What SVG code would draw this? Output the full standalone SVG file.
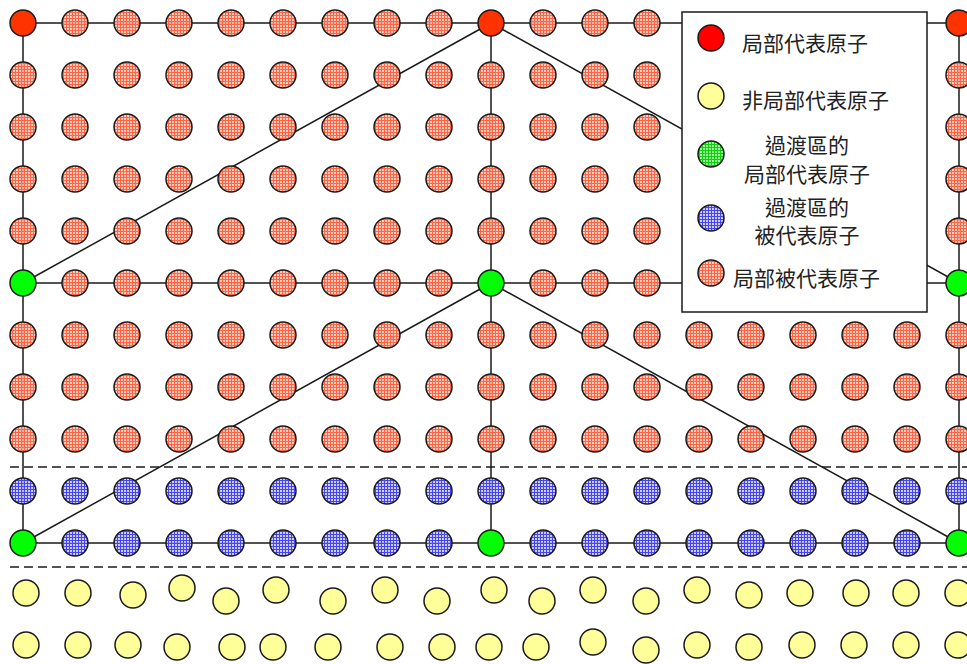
<svg xmlns="http://www.w3.org/2000/svg" xmlns:xlink="http://www.w3.org/1999/xlink" width="967" height="664" viewBox="0 0 967 664">
<defs>
<pattern id="pS" width="3" height="3" patternUnits="userSpaceOnUse">
<rect width="3" height="3" fill="#FFC2B0" fill-opacity="0.85"/>
<path d="M0 0.5H3M0.5 0V3" stroke="#FF6444" stroke-width="1"/>
</pattern>
<pattern id="pB" width="3" height="3" patternUnits="userSpaceOnUse">
<rect width="3" height="3" fill="#C4C4FF" fill-opacity="0.85"/>
<path d="M0 0.5H3M0.5 0V3" stroke="#4646F0" stroke-width="1"/>
</pattern>
<pattern id="pG" width="3" height="3" patternUnits="userSpaceOnUse">
<rect width="3" height="3" fill="#9CFF9C"/>
<path d="M0 0.5H3M0.5 0V3" stroke="#10D010" stroke-width="1"/>
</pattern>
</defs>
<style>
.ln{stroke:#1a1a1a;stroke-width:1.5;fill:none}
.ds{stroke:#1a1a1a;stroke-width:1.5;stroke-dasharray:9 5;fill:none}
circle{stroke:#1a1a1a;stroke-width:1.5}
.s{fill:url(#pS)}
.b{fill:url(#pB)}
.r{fill:#FF3300}
.g{fill:#00FF00}
.y{fill:#FFFF99}
.lr{fill:#FF0000}
.lg{fill:url(#pG)}
.t{font-family:"Noto Sans CJK TC","Noto Sans CJK SC",sans-serif;font-size:21px;fill:#222;dominant-baseline:central}
.m{text-anchor:middle}
</style>
<rect width="967" height="664" fill="#fff"/>
<g id="connectors">
<path class="ln" d="M23 23H959M23 283H959M23 543H959M23 23V543M491 23V543M959 23V543"/>
<path class="ln" d="M491 23L23 283M491 23L959 283M491 283L23 543M491 283L959 543"/>
<path class="ds" d="M10 467H967M10 567H967"/>
</g>
<g id="row0">
<circle id="n0-0" class="r" cx="23" cy="23" r="13"/><circle id="n0-1" class="s" cx="75" cy="23" r="13"/><circle id="n0-2" class="s" cx="127" cy="23" r="13"/><circle id="n0-3" class="s" cx="179" cy="23" r="13"/><circle id="n0-4" class="s" cx="231" cy="23" r="13"/><circle id="n0-5" class="s" cx="283" cy="23" r="13"/><circle id="n0-6" class="s" cx="335" cy="23" r="13"/><circle id="n0-7" class="s" cx="387" cy="23" r="13"/><circle id="n0-8" class="s" cx="439" cy="23" r="13"/><circle id="n0-9" class="r" cx="491" cy="23" r="13"/><circle id="n0-10" class="s" cx="543" cy="23" r="13"/><circle id="n0-11" class="s" cx="595" cy="23" r="13"/><circle id="n0-12" class="s" cx="647" cy="23" r="13"/><circle id="n0-18" class="r" cx="959" cy="23" r="13"/>
</g>
<g id="row1">
<circle id="n1-0" class="s" cx="23" cy="75" r="13"/><circle id="n1-1" class="s" cx="75" cy="75" r="13"/><circle id="n1-2" class="s" cx="127" cy="75" r="13"/><circle id="n1-3" class="s" cx="179" cy="75" r="13"/><circle id="n1-4" class="s" cx="231" cy="75" r="13"/><circle id="n1-5" class="s" cx="283" cy="75" r="13"/><circle id="n1-6" class="s" cx="335" cy="75" r="13"/><circle id="n1-7" class="s" cx="387" cy="75" r="13"/><circle id="n1-8" class="s" cx="439" cy="75" r="13"/><circle id="n1-9" class="s" cx="491" cy="75" r="13"/><circle id="n1-10" class="s" cx="543" cy="75" r="13"/><circle id="n1-11" class="s" cx="595" cy="75" r="13"/><circle id="n1-12" class="s" cx="647" cy="75" r="13"/><circle id="n1-18" class="s" cx="959" cy="75" r="13"/>
</g>
<g id="row2">
<circle id="n2-0" class="s" cx="23" cy="127" r="13"/><circle id="n2-1" class="s" cx="75" cy="127" r="13"/><circle id="n2-2" class="s" cx="127" cy="127" r="13"/><circle id="n2-3" class="s" cx="179" cy="127" r="13"/><circle id="n2-4" class="s" cx="231" cy="127" r="13"/><circle id="n2-5" class="s" cx="283" cy="127" r="13"/><circle id="n2-6" class="s" cx="335" cy="127" r="13"/><circle id="n2-7" class="s" cx="387" cy="127" r="13"/><circle id="n2-8" class="s" cx="439" cy="127" r="13"/><circle id="n2-9" class="s" cx="491" cy="127" r="13"/><circle id="n2-10" class="s" cx="543" cy="127" r="13"/><circle id="n2-11" class="s" cx="595" cy="127" r="13"/><circle id="n2-12" class="s" cx="647" cy="127" r="13"/><circle id="n2-18" class="s" cx="959" cy="127" r="13"/>
</g>
<g id="row3">
<circle id="n3-0" class="s" cx="23" cy="179" r="13"/><circle id="n3-1" class="s" cx="75" cy="179" r="13"/><circle id="n3-2" class="s" cx="127" cy="179" r="13"/><circle id="n3-3" class="s" cx="179" cy="179" r="13"/><circle id="n3-4" class="s" cx="231" cy="179" r="13"/><circle id="n3-5" class="s" cx="283" cy="179" r="13"/><circle id="n3-6" class="s" cx="335" cy="179" r="13"/><circle id="n3-7" class="s" cx="387" cy="179" r="13"/><circle id="n3-8" class="s" cx="439" cy="179" r="13"/><circle id="n3-9" class="s" cx="491" cy="179" r="13"/><circle id="n3-10" class="s" cx="543" cy="179" r="13"/><circle id="n3-11" class="s" cx="595" cy="179" r="13"/><circle id="n3-12" class="s" cx="647" cy="179" r="13"/><circle id="n3-18" class="s" cx="959" cy="179" r="13"/>
</g>
<g id="row4">
<circle id="n4-0" class="s" cx="23" cy="231" r="13"/><circle id="n4-1" class="s" cx="75" cy="231" r="13"/><circle id="n4-2" class="s" cx="127" cy="231" r="13"/><circle id="n4-3" class="s" cx="179" cy="231" r="13"/><circle id="n4-4" class="s" cx="231" cy="231" r="13"/><circle id="n4-5" class="s" cx="283" cy="231" r="13"/><circle id="n4-6" class="s" cx="335" cy="231" r="13"/><circle id="n4-7" class="s" cx="387" cy="231" r="13"/><circle id="n4-8" class="s" cx="439" cy="231" r="13"/><circle id="n4-9" class="s" cx="491" cy="231" r="13"/><circle id="n4-10" class="s" cx="543" cy="231" r="13"/><circle id="n4-11" class="s" cx="595" cy="231" r="13"/><circle id="n4-12" class="s" cx="647" cy="231" r="13"/><circle id="n4-18" class="s" cx="959" cy="231" r="13"/>
</g>
<g id="row5">
<circle id="n5-0" class="g" cx="23" cy="283" r="13"/><circle id="n5-1" class="s" cx="75" cy="283" r="13"/><circle id="n5-2" class="s" cx="127" cy="283" r="13"/><circle id="n5-3" class="s" cx="179" cy="283" r="13"/><circle id="n5-4" class="s" cx="231" cy="283" r="13"/><circle id="n5-5" class="s" cx="283" cy="283" r="13"/><circle id="n5-6" class="s" cx="335" cy="283" r="13"/><circle id="n5-7" class="s" cx="387" cy="283" r="13"/><circle id="n5-8" class="s" cx="439" cy="283" r="13"/><circle id="n5-9" class="g" cx="491" cy="283" r="13"/><circle id="n5-10" class="s" cx="543" cy="283" r="13"/><circle id="n5-11" class="s" cx="595" cy="283" r="13"/><circle id="n5-12" class="s" cx="647" cy="283" r="13"/><circle id="n5-18" class="g" cx="959" cy="283" r="13"/>
</g>
<g id="row6">
<circle id="n6-0" class="s" cx="23" cy="335" r="13"/><circle id="n6-1" class="s" cx="75" cy="335" r="13"/><circle id="n6-2" class="s" cx="127" cy="335" r="13"/><circle id="n6-3" class="s" cx="179" cy="335" r="13"/><circle id="n6-4" class="s" cx="231" cy="335" r="13"/><circle id="n6-5" class="s" cx="283" cy="335" r="13"/><circle id="n6-6" class="s" cx="335" cy="335" r="13"/><circle id="n6-7" class="s" cx="387" cy="335" r="13"/><circle id="n6-8" class="s" cx="439" cy="335" r="13"/><circle id="n6-9" class="s" cx="491" cy="335" r="13"/><circle id="n6-10" class="s" cx="543" cy="335" r="13"/><circle id="n6-11" class="s" cx="595" cy="335" r="13"/><circle id="n6-12" class="s" cx="647" cy="335" r="13"/><circle id="n6-13" class="s" cx="699" cy="335" r="13"/><circle id="n6-14" class="s" cx="751" cy="335" r="13"/><circle id="n6-15" class="s" cx="803" cy="335" r="13"/><circle id="n6-16" class="s" cx="855" cy="335" r="13"/><circle id="n6-17" class="s" cx="907" cy="335" r="13"/><circle id="n6-18" class="s" cx="959" cy="335" r="13"/>
</g>
<g id="row7">
<circle id="n7-0" class="s" cx="23" cy="387" r="13"/><circle id="n7-1" class="s" cx="75" cy="387" r="13"/><circle id="n7-2" class="s" cx="127" cy="387" r="13"/><circle id="n7-3" class="s" cx="179" cy="387" r="13"/><circle id="n7-4" class="s" cx="231" cy="387" r="13"/><circle id="n7-5" class="s" cx="283" cy="387" r="13"/><circle id="n7-6" class="s" cx="335" cy="387" r="13"/><circle id="n7-7" class="s" cx="387" cy="387" r="13"/><circle id="n7-8" class="s" cx="439" cy="387" r="13"/><circle id="n7-9" class="s" cx="491" cy="387" r="13"/><circle id="n7-10" class="s" cx="543" cy="387" r="13"/><circle id="n7-11" class="s" cx="595" cy="387" r="13"/><circle id="n7-12" class="s" cx="647" cy="387" r="13"/><circle id="n7-13" class="s" cx="699" cy="387" r="13"/><circle id="n7-14" class="s" cx="751" cy="387" r="13"/><circle id="n7-15" class="s" cx="803" cy="387" r="13"/><circle id="n7-16" class="s" cx="855" cy="387" r="13"/><circle id="n7-17" class="s" cx="907" cy="387" r="13"/><circle id="n7-18" class="s" cx="959" cy="387" r="13"/>
</g>
<g id="row8">
<circle id="n8-0" class="s" cx="23" cy="439" r="13"/><circle id="n8-1" class="s" cx="75" cy="439" r="13"/><circle id="n8-2" class="s" cx="127" cy="439" r="13"/><circle id="n8-3" class="s" cx="179" cy="439" r="13"/><circle id="n8-4" class="s" cx="231" cy="439" r="13"/><circle id="n8-5" class="s" cx="283" cy="439" r="13"/><circle id="n8-6" class="s" cx="335" cy="439" r="13"/><circle id="n8-7" class="s" cx="387" cy="439" r="13"/><circle id="n8-8" class="s" cx="439" cy="439" r="13"/><circle id="n8-9" class="s" cx="491" cy="439" r="13"/><circle id="n8-10" class="s" cx="543" cy="439" r="13"/><circle id="n8-11" class="s" cx="595" cy="439" r="13"/><circle id="n8-12" class="s" cx="647" cy="439" r="13"/><circle id="n8-13" class="s" cx="699" cy="439" r="13"/><circle id="n8-14" class="s" cx="751" cy="439" r="13"/><circle id="n8-15" class="s" cx="803" cy="439" r="13"/><circle id="n8-16" class="s" cx="855" cy="439" r="13"/><circle id="n8-17" class="s" cx="907" cy="439" r="13"/><circle id="n8-18" class="s" cx="959" cy="439" r="13"/>
</g>
<g id="row9">
<circle id="n9-0" class="b" cx="23" cy="491" r="13"/><circle id="n9-1" class="b" cx="75" cy="491" r="13"/><circle id="n9-2" class="b" cx="127" cy="491" r="13"/><circle id="n9-3" class="b" cx="179" cy="491" r="13"/><circle id="n9-4" class="b" cx="231" cy="491" r="13"/><circle id="n9-5" class="b" cx="283" cy="491" r="13"/><circle id="n9-6" class="b" cx="335" cy="491" r="13"/><circle id="n9-7" class="b" cx="387" cy="491" r="13"/><circle id="n9-8" class="b" cx="439" cy="491" r="13"/><circle id="n9-9" class="b" cx="491" cy="491" r="13"/><circle id="n9-10" class="b" cx="543" cy="491" r="13"/><circle id="n9-11" class="b" cx="595" cy="491" r="13"/><circle id="n9-12" class="b" cx="647" cy="491" r="13"/><circle id="n9-13" class="b" cx="699" cy="491" r="13"/><circle id="n9-14" class="b" cx="751" cy="491" r="13"/><circle id="n9-15" class="b" cx="803" cy="491" r="13"/><circle id="n9-16" class="b" cx="855" cy="491" r="13"/><circle id="n9-17" class="b" cx="907" cy="491" r="13"/><circle id="n9-18" class="b" cx="959" cy="491" r="13"/>
</g>
<g id="row10">
<circle id="n10-0" class="g" cx="23" cy="543" r="13"/><circle id="n10-1" class="b" cx="75" cy="543" r="13"/><circle id="n10-2" class="b" cx="127" cy="543" r="13"/><circle id="n10-3" class="b" cx="179" cy="543" r="13"/><circle id="n10-4" class="b" cx="231" cy="543" r="13"/><circle id="n10-5" class="b" cx="283" cy="543" r="13"/><circle id="n10-6" class="b" cx="335" cy="543" r="13"/><circle id="n10-7" class="b" cx="387" cy="543" r="13"/><circle id="n10-8" class="b" cx="439" cy="543" r="13"/><circle id="n10-9" class="g" cx="491" cy="543" r="13"/><circle id="n10-10" class="b" cx="543" cy="543" r="13"/><circle id="n10-11" class="b" cx="595" cy="543" r="13"/><circle id="n10-12" class="b" cx="647" cy="543" r="13"/><circle id="n10-13" class="b" cx="699" cy="543" r="13"/><circle id="n10-14" class="b" cx="751" cy="543" r="13"/><circle id="n10-15" class="b" cx="803" cy="543" r="13"/><circle id="n10-16" class="b" cx="855" cy="543" r="13"/><circle id="n10-17" class="b" cx="907" cy="543" r="13"/><circle id="n10-18" class="g" cx="959" cy="543" r="13"/>
</g>
<g id="yellow1">
<circle id="y1-0" class="y" cx="26" cy="593" r="13"/><circle id="y1-1" class="y" cx="78" cy="593" r="13"/><circle id="y1-2" class="y" cx="133" cy="595" r="13"/><circle id="y1-3" class="y" cx="182" cy="588" r="13"/><circle id="y1-4" class="y" cx="226" cy="601" r="13"/><circle id="y1-5" class="y" cx="276" cy="590" r="13"/><circle id="y1-6" class="y" cx="333" cy="601" r="13"/><circle id="y1-7" class="y" cx="385" cy="590" r="13"/><circle id="y1-8" class="y" cx="437" cy="601" r="13"/><circle id="y1-9" class="y" cx="494" cy="590" r="13"/><circle id="y1-10" class="y" cx="542" cy="601" r="13"/><circle id="y1-11" class="y" cx="593" cy="590" r="13"/><circle id="y1-12" class="y" cx="646" cy="601" r="13"/><circle id="y1-13" class="y" cx="697" cy="590" r="13"/><circle id="y1-14" class="y" cx="749" cy="595" r="13"/><circle id="y1-15" class="y" cx="800" cy="593" r="13"/><circle id="y1-16" class="y" cx="856" cy="593" r="13"/><circle id="y1-17" class="y" cx="906" cy="593" r="13"/><circle id="y1-18" class="y" cx="958" cy="593" r="13"/>
</g>
<g id="yellow2">
<circle id="y2-0" class="y" cx="26" cy="645" r="13"/><circle id="y2-1" class="y" cx="78" cy="645" r="13"/><circle id="y2-2" class="y" cx="128" cy="645" r="13"/><circle id="y2-3" class="y" cx="177" cy="647" r="13"/><circle id="y2-4" class="y" cx="232" cy="647" r="13"/><circle id="y2-5" class="y" cx="273" cy="647" r="13"/><circle id="y2-6" class="y" cx="328" cy="647" r="13"/><circle id="y2-7" class="y" cx="390" cy="647" r="13"/><circle id="y2-8" class="y" cx="442" cy="647" r="13"/><circle id="y2-9" class="y" cx="489" cy="647" r="13"/><circle id="y2-10" class="y" cx="536" cy="647" r="13"/><circle id="y2-11" class="y" cx="593" cy="642" r="13"/><circle id="y2-12" class="y" cx="646" cy="650" r="13"/><circle id="y2-13" class="y" cx="697" cy="645" r="13"/><circle id="y2-14" class="y" cx="749" cy="647" r="13"/><circle id="y2-15" class="y" cx="802" cy="645" r="13"/><circle id="y2-16" class="y" cx="854" cy="645" r="13"/><circle id="y2-17" class="y" cx="906" cy="645" r="13"/><circle id="y2-18" class="y" cx="958" cy="645" r="13"/>
</g>
<g id="legend">
<rect x="682" y="12" width="245" height="300" fill="#fff" stroke="#1a1a1a" stroke-width="1.5"/>
<circle class="lr" cx="711" cy="38" r="13"/>
<circle class="y" cx="711" cy="96" r="13"/>
<circle class="lg" cx="711" cy="154" r="13"/>
<circle class="b" cx="711" cy="218" r="13"/>
<circle class="s" cx="711" cy="273" r="13"/>
<text class="t" x="742" y="42">局部代表原子</text>
<text class="t" x="742" y="99">非局部代表原子</text>
<text class="t m" x="807" y="144">過渡區的</text>
<text class="t m" x="807" y="173">局部代表原子</text>
<text class="t m" x="807" y="206">過渡區的</text>
<text class="t m" x="807" y="234">被代表原子</text>
<text class="t" x="733" y="277">局部被代表原子</text>
</g>
</svg>
